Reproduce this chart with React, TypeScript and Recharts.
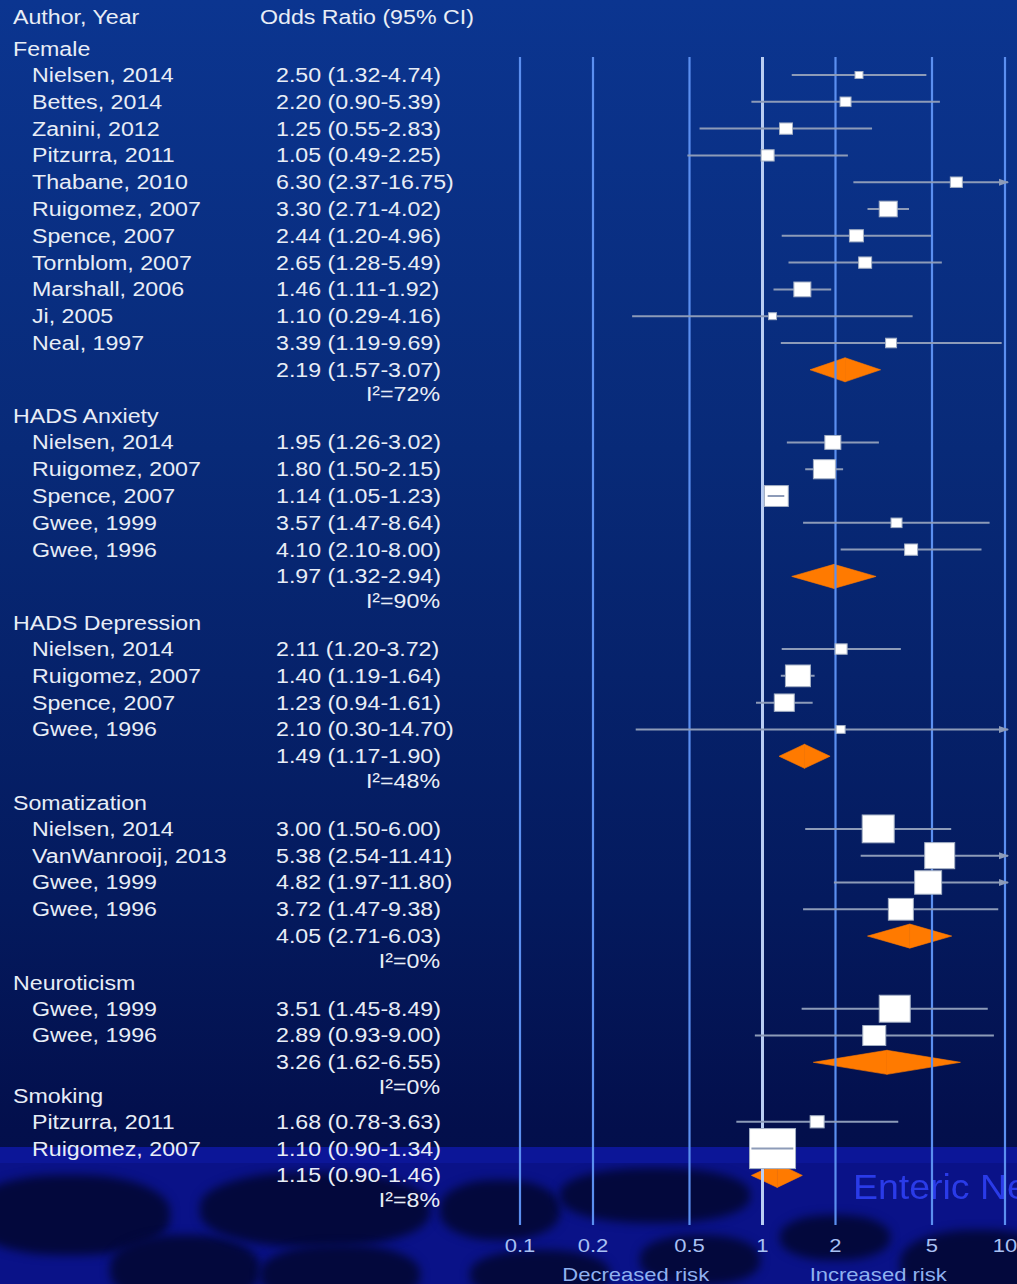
import React from "react";
import {
  ComposedChart,
  XAxis,
  YAxis,
  Scatter,
  ReferenceLine,
  ReferenceArea,
} from "recharts";

// subgroups and their studies
const groups = ["Female", "HADS Anxiety", "HADS Depression", "Somatization", "Neuroticism", "Smoking"];

const studyNames = [
  ["Nielsen, 2014", "Bettes, 2014", "Zanini, 2012", "Pitzurra, 2011", "Thabane, 2010", "Ruigomez, 2007", "Spence, 2007", "Tornblom, 2007", "Marshall, 2006", "Ji, 2005", "Neal, 1997"],
  ["Nielsen, 2014", "Ruigomez, 2007", "Spence, 2007", "Gwee, 1999", "Gwee, 1996"],
  ["Nielsen, 2014", "Ruigomez, 2007", "Spence, 2007", "Gwee, 1996"],
  ["Nielsen, 2014", "VanWanrooij, 2013", "Gwee, 1999", "Gwee, 1996"],
  ["Gwee, 1999", "Gwee, 1996"],
  ["Pitzurra, 2011", "Ruigomez, 2007"],
];

const oddsRatios = [
  [2.5, 2.2, 1.25, 1.05, 6.3, 3.3, 2.44, 2.65, 1.46, 1.1, 3.39],
  [1.95, 1.8, 1.14, 3.57, 4.1],
  [2.11, 1.4, 1.23, 2.1],
  [3.0, 5.38, 4.82, 3.72],
  [3.51, 2.89],
  [1.68, 1.1],
];

const lowerCI = [
  [1.32, 0.9, 0.55, 0.49, 2.37, 2.71, 1.2, 1.28, 1.11, 0.29, 1.19],
  [1.26, 1.5, 1.05, 1.47, 2.1],
  [1.2, 1.19, 0.94, 0.3],
  [1.5, 2.54, 1.97, 1.47],
  [1.45, 0.93],
  [0.78, 0.9],
];

const upperCI = [
  [4.74, 5.39, 2.83, 2.25, 16.75, 4.02, 4.96, 5.49, 1.92, 4.16, 9.69],
  [3.02, 2.15, 1.23, 8.64, 8.0],
  [3.72, 1.64, 1.61, 14.7],
  [6.0, 11.41, 11.8, 9.38],
  [8.49, 9.0],
  [3.63, 1.34],
];

// study weights (box size)
const weights = [
  [4, 5.5, 6.5, 6.5, 6, 9, 7, 6.5, 8.5, 4, 5.5],
  [8, 11, 12, 5.5, 6.5],
  [6, 12.5, 10, 4.5],
  [16, 15, 13.5, 12.5],
  [15.5, 11.5],
  [7, 23],
];

const pooledOR = [2.19, 1.97, 1.49, 4.05, 3.26, 1.15];
const pooledLower = [1.57, 1.32, 1.17, 2.71, 1.62, 0.9];
const pooledUpper = [3.07, 2.94, 1.9, 6.03, 6.55, 1.46];
const iSquared = [72, 90, 48, 0, 0, 8];

const xTicks = [0.1, 0.2, 0.5, 1, 2, 5, 10];
const riskLabels = [
  { x: 0.3, label: "Decreased risk" },
  { x: 3, label: "Increased risk" },
];

// layout
const W = 1017;
const H = 1284;
const ROW = 26.8;
const TOP_ROW_PX = 49;
const Y0 = -TOP_ROW_PX / ROW;
const Y1 = Y0 + H / ROW;
const pxToPos = (px: number) => (px - TOP_ROW_PX) / ROW;
const PX_PER_DECADE = (1005 - 520) / 2;
const ARROW_END = 10.3;

const TEXT = "#e8edf6";
const CI_COLOR = "#8d9bb8";
const ORANGE = "#ff7a00";
const FONT = "'Liberation Sans', Arial, Helvetica, sans-serif";

const fmt = (or: number, lo: number, hi: number) =>
  `${or.toFixed(2)} (${lo.toFixed(2)}-${hi.toFixed(2)})`;

type Row = { x: number; y: number; kind: string; name?: string; ci?: string };
type Study = { x: number; y: number; lo: number; hi: number; w: number };
type Pooled = { y: number; or: number; lo: number; hi: number };

const rows: Row[] = [{ x: 1, y: pxToPos(17), kind: "header" }];
const studies: Study[] = [];
const pooled: Pooled[] = [];

let pos = 0;
groups.forEach((g, gi) => {
  if (gi > 0) pos += gi === groups.length - 1 ? 0.33 : 0.82;
  rows.push({ x: 1, y: pos, kind: "group", name: g });
  pos += 0.97;
  studyNames[gi].forEach((name, si) => {
    const or = oddsRatios[gi][si];
    const lo = lowerCI[gi][si];
    const hi = upperCI[gi][si];
    rows.push({ x: 1, y: pos, kind: "study", name, ci: fmt(or, lo, hi) });
    studies.push({ x: or, y: pos, lo, hi, w: weights[gi][si] });
    pos += 1;
  });
  rows.push({ x: 1, y: pos, kind: "summary", ci: fmt(pooledOR[gi], pooledLower[gi], pooledUpper[gi]) });
  pooled.push({ y: pos, or: pooledOR[gi], lo: pooledLower[gi], hi: pooledUpper[gi] });
  pos += 0.92;
  rows.push({ x: 1, y: pos, kind: "i2", name: `I²=${iSquared[gi]}%` });
});

const arrows = studies.filter((s) => s.hi > 10).map((s) => ({ x: 10, y: s.y }));
const tickRows = xTicks.map((t) => ({ x: t, y: pxToPos(1245), label: String(t) }));
const riskRows = riskLabels.map((r) => ({ ...r, y: pxToPos(1274) }));

const boxW = (w: number) => w * 2;
const ciInsideBox = (s: Study) =>
  (Math.log10(s.hi) - Math.log10(s.lo)) * PX_PER_DECADE < boxW(s.w);

const Txt = (p: {
  x: number;
  y: number;
  children: React.ReactNode;
  anchor?: "start" | "middle" | "end";
  size?: number;
  fill?: string;
}) => (
  <text
    transform={`translate(${p.x},${p.y}) scale(1.16,1)`}
    textAnchor={p.anchor || "start"}
    dominantBaseline="central"
    fontSize={p.size || 20}
    fontFamily={FONT}
    fill={p.fill || TEXT}
  >
    {p.children}
  </text>
);

const RowText = (props: any) => {
  const { cy, payload } = props;
  const r = payload as Row;
  if (r.kind === "header")
    return (
      <g>
        <Txt x={13} y={cy}>Author, Year</Txt>
        <Txt x={260} y={cy}>Odds Ratio (95% CI)</Txt>
      </g>
    );
  if (r.kind === "group") return <Txt x={13} y={cy}>{r.name}</Txt>;
  if (r.kind === "study")
    return (
      <g>
        <Txt x={32} y={cy}>{r.name}</Txt>
        <Txt x={276} y={cy}>{r.ci}</Txt>
      </g>
    );
  if (r.kind === "summary") return <Txt x={276} y={cy}>{r.ci}</Txt>;
  return <Txt x={440} y={cy} anchor="end">{r.name}</Txt>;
};

const StudyBox = (props: any) => {
  const { cx, cy, payload } = props;
  const w = boxW(payload.w);
  const h = w / 1.15;
  return <rect x={cx - w / 2} y={cy - h / 2} width={w} height={h} fill="#ffffff" stroke="#a3afc4" strokeWidth={1} />;
};

const NoMark = () => <g />;

const ArrowHead = (props: any) => {
  const { cx, cy } = props;
  return <polygon points={`${cx - 6},${cy - 3.5} ${cx + 4},${cy} ${cx - 6},${cy + 3.5}`} fill={CI_COLOR} />;
};

const LeftHalf = (p: any) => (
  <polygon
    points={`${p.x},${p.y + p.height / 2} ${p.x + p.width},${p.y} ${p.x + p.width},${p.y + p.height}`}
    fill={ORANGE}
    stroke={ORANGE}
    strokeWidth={0.6}
  />
);
const RightHalf = (p: any) => (
  <polygon
    points={`${p.x},${p.y} ${p.x + p.width},${p.y + p.height / 2} ${p.x},${p.y + p.height}`}
    fill={ORANGE}
    stroke={ORANGE}
    strokeWidth={0.6}
  />
);

const TickText = (props: any) => (
  <Txt x={props.cx} y={props.cy} anchor="middle" size={19} fill="#a9c1f4">{props.payload.label}</Txt>
);
const RiskText = (props: any) => (
  <Txt x={props.cx} y={props.cy} anchor="middle" size={19} fill="#8fb1f0">{props.payload.label}</Txt>
);

const blobs = [
  { l: -30, t: 1175, w: 200, h: 80 },
  { l: 110, t: 1235, w: 150, h: 70 },
  { l: 200, t: 1172, w: 230, h: 75 },
  { l: 260, t: 1245, w: 160, h: 60 },
  { l: 440, t: 1180, w: 120, h: 60 },
  { l: 470, t: 1250, w: 140, h: 50 },
  { l: 560, t: 1168, w: 190, h: 55 },
  { l: 640, t: 1235, w: 120, h: 50 },
  { l: 780, t: 1215, w: 110, h: 45 },
  { l: 900, t: 1230, w: 160, h: 70 },
];

export default function App() {
  return (
    <div
      style={{
        position: "absolute",
        left: 0,
        top: 0,
        width: W,
        height: H,
        overflow: "hidden",
        background: "linear-gradient(180deg, #0b3590 0%, #082a78 35%, #041a5e 70%, #030f4c 88%, #030d48 100%)",
      }}
    >
      <div style={{ position: "absolute", left: 0, top: 1163, width: W, height: H - 1163, background: "#0a1288" }} />
      {blobs.map((b, i) => (
        <div
          key={i}
          style={{
            position: "absolute",
            left: b.l,
            top: b.t,
            width: b.w,
            height: b.h,
            borderRadius: "45%",
            background: "#03083c",
            filter: "blur(5px)",
          }}
        />
      ))}
      <div style={{ position: "absolute", left: 0, top: 1147, width: W, height: 16, background: "#0c1698" }} />
      <div
        style={{
          position: "absolute",
          left: 853,
          top: 1167,
          fontFamily: FONT,
          fontSize: 35,
          color: "#2a3be8",
          whiteSpace: "nowrap",
          transform: "scale(1.07,1)",
          transformOrigin: "left top",
        }}
      >
        Enteric Nervous System
      </div>
      <div style={{ position: "absolute", left: 0, top: 0 }}>
        <ComposedChart width={W} height={H} margin={{ top: 0, right: 12, bottom: 0, left: 520 }}>
          <XAxis type="number" dataKey="x" scale="log" domain={[0.1, 10]} ticks={xTicks} hide />
          <YAxis type="number" dataKey="y" domain={[Y0, Y1]} reversed hide />
          {xTicks.map((t) => (
            <ReferenceLine
              key={`g${t}`}
              segment={[{ x: t, y: pxToPos(57) }, { x: t, y: pxToPos(1225) }]}
              stroke={t === 1 ? "#b9cdf2" : "#5b8ff0"}
              strokeWidth={t === 1 ? 3 : 2.2}
              ifOverflow="visible"
            />
          ))}
          {studies.filter((s) => !ciInsideBox(s)).map((s, i) => (
            <ReferenceLine
              key={`ci${i}`}
              segment={[{ x: s.lo, y: s.y }, { x: Math.min(s.hi, ARROW_END), y: s.y }]}
              stroke={CI_COLOR}
              strokeWidth={2}
              ifOverflow="visible"
            />
          ))}
          {pooled.map((p, i) => (
            <ReferenceArea key={`dl${i}`} x1={p.lo} x2={p.or} y1={p.y - 0.45} y2={p.y + 0.45} ifOverflow="visible" shape={LeftHalf} />
          ))}
          {pooled.map((p, i) => (
            <ReferenceArea key={`dr${i}`} x1={p.or} x2={p.hi} y1={p.y - 0.45} y2={p.y + 0.45} ifOverflow="visible" shape={RightHalf} />
          ))}
          <Scatter data={studies} shape={StudyBox} isAnimationActive={false} />
          {/* short CIs that sit inside their box are drawn on top of it */}
          {studies.filter((s) => ciInsideBox(s)).map((s, i) => (
            <Scatter
              key={`cin${i}`}
              data={[{ x: s.lo, y: s.y }, { x: s.hi, y: s.y }]}
              line={{ stroke: CI_COLOR, strokeWidth: 2 }}
              shape={NoMark}
              isAnimationActive={false}
            />
          ))}
          <Scatter data={arrows} shape={ArrowHead} isAnimationActive={false} />
          <Scatter data={rows} shape={RowText} isAnimationActive={false} />
          <Scatter data={tickRows} shape={TickText} isAnimationActive={false} />
          <Scatter data={riskRows} shape={RiskText} isAnimationActive={false} />
        </ComposedChart>
      </div>
    </div>
  );
}
